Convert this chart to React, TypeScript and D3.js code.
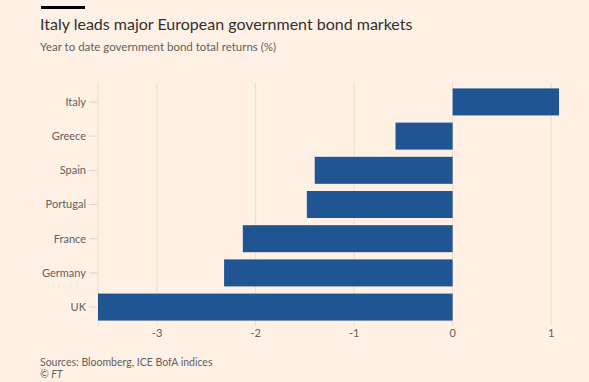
import React from "react";
import * as d3 from "d3";

const categories = ["Italy", "Greece", "Spain", "Portugal", "France", "Germany", "UK"];
const values = [1.08, -0.58, -1.4, -1.48, -2.13, -2.32, -3.6];
const xTicks = [-3, -2, -1, 0, 1];

const W = 589;
const H = 382;

export default function App() {
  const x = d3.scaleLinear().domain([-3.6, 1.1]).range([98, 561]);
  const y = d3.scaleBand().domain(categories).range([85, 324]).paddingInner(0.21).paddingOuter(0.1);
  const font = "Lato, 'Open Sans', sans-serif";
  return (
    <svg width={W} height={H} style={{ position: "absolute", left: 0, top: 0, background: "#fff1e5" }} fontFamily={font}>
      <rect x={0} y={0} width={W} height={H} fill="#fff1e5" />
      <rect x={41} y={6} width={44} height={3} fill="#000" />
      <text x={40} y={30} fontSize={16} fill="#33302e">Italy leads major European government bond markets</text>
      <text x={40} y={51} fontSize={11.5} fill="#66605c">Year to date government bond total returns (%)</text>
      {xTicks.map((t) => (
        <line key={"g" + t} x1={x(t)} x2={x(t)} y1={82} y2={326} stroke="#eadccf" strokeWidth={1} />
      ))}
      <line x1={x(-3.6)} x2={x(-3.6)} y1={82} y2={326} stroke="#eadccf" strokeWidth={1} />
      {categories.map((c, i) => {
        const v = values[i];
        return (
          <rect key={c} x={x(Math.min(0, v))} y={y(c)} width={Math.abs(x(v) - x(0))} height={y.bandwidth()} fill="#1f5592" />
        );
      })}
      {categories.map((c) => (
        <g key={"l" + c}>
          <line x1={89} x2={97} y1={y(c)! + y.bandwidth() / 2} y2={y(c)! + y.bandwidth() / 2} stroke="#e0d3c8" />
          <text x={86} y={y(c)! + y.bandwidth() / 2} dy="0.35em" textAnchor="end" fontSize={11} fill="#66605c">{c}</text>
        </g>
      ))}
      {xTicks.map((t) => (
        <text key={"t" + t} x={x(t)} y={337} textAnchor="middle" fontSize={11} fill="#66605c">{t < 0 ? "-" + Math.abs(t) : String(t)}</text>
      ))}
      <text x={40} y={366} fontSize={10.5} fill="#66605c">Sources: Bloomberg, ICE BofA indices</text>
      <text x={40} y={378} fontSize={10.5} fill="#66605c" fontStyle="italic">© FT</text>
    </svg>
  );
}
